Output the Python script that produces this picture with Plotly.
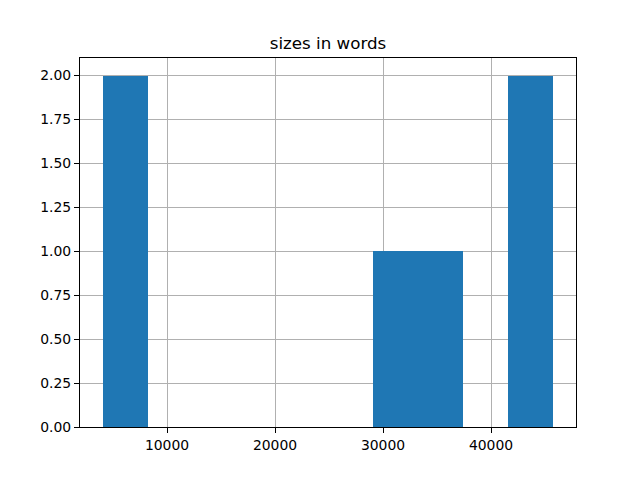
import numpy as np
import plotly.graph_objects as go

# word counts of the documents (estimated from the histogram)
sizes_in_words = [4032, 6100, 31000, 35500, 43000, 45783]
n_bins = 10
title_text = "sizes in words"
y_tick_values = [0, 0.25, 0.5, 0.75, 1.0, 1.25, 1.5, 1.75, 2.0]
x_tick_values = [10000, 20000, 30000, 40000]

counts, edges = np.histogram(sizes_in_words, bins=n_bins)
centers = (edges[:-1] + edges[1:]) / 2
widths = np.diff(edges)

dmin, dmax = edges[0], edges[-1]
span = dmax - dmin
x_range = [dmin - 0.05 * span, dmax + 0.05 * span]
y_range = [0, counts.max() * 1.05]

fig = go.Figure(go.Bar(
    x=centers, y=counts, width=widths,
    marker=dict(color="#1f77b4", line=dict(width=0)),
))

axis_common = dict(
    showline=True, linecolor="black", linewidth=1, mirror=True,
    ticks="outside", ticklen=5, tickwidth=1, tickcolor="black",
    showgrid=True, gridcolor="#b0b0b0", gridwidth=1,
    zeroline=False, layer="above traces",
    tickfont=dict(family="DejaVu Sans", size=13.9, color="black"),
)

fig.update_layout(
    width=640, height=480,
    paper_bgcolor="white", plot_bgcolor="white",
    margin=dict(l=72, r=72, t=50, b=61),
    showlegend=False,
    title=dict(text=title_text, x=0.5, xanchor="center", xref="paper",
               y=1, yref="paper", yanchor="bottom", pad=dict(b=9),
               font=dict(family="DejaVu Sans", size=16.7, color="black")),
    xaxis=dict(range=x_range, tickvals=x_tick_values, tickformat="d", **axis_common),
    yaxis=dict(range=y_range, tickvals=y_tick_values, tickformat=".2f", **axis_common),
    bargap=0,
)

fig.write_html("out.html")
